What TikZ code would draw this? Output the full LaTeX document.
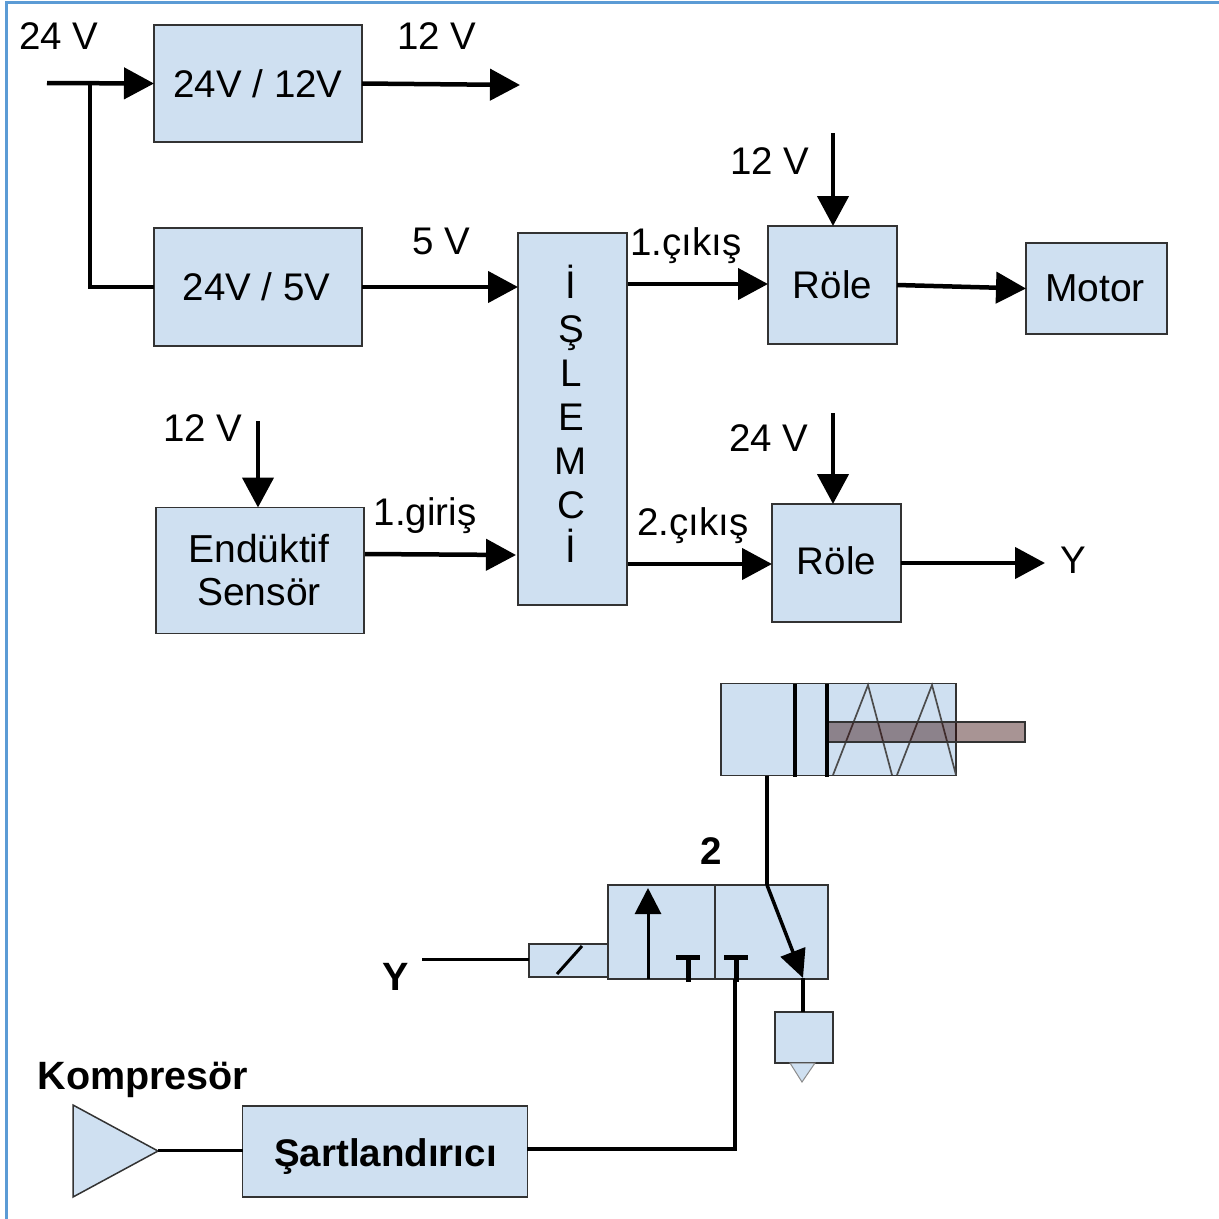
\documentclass[tikz,border=0pt]{standalone}
\usepackage{fontspec}
\setmainfont{Liberation Sans}
\usetikzlibrary{arrows.meta}
\definecolor{boxfill}{HTML}{CFE0F1}
\definecolor{framecol}{HTML}{5B9BD5}
\definecolor{rodcol}{HTML}{300000}
\begin{document}
\begin{tikzpicture}[x=1pt,y=-1pt]
\tikzset{
base/.style={font=\fontsize{38.5}{42}\selectfont,inner sep=0pt},
block/.style={base,draw=black!80,line width=1.5pt,fill=boxfill,align=center,outer sep=0pt},
part/.style={draw=black!80,line width=1.5pt,fill=boxfill,outer sep=0pt},
txt/.style={base},
boldtxt/.style={font=\fontsize{39.5}{42}\selectfont\bfseries,inner sep=0pt},
wire/.style={draw=black,line width=4.5pt},
arrow/.style={wire,-{Triangle[length=30pt,width=31pt]}},
pipe/.style={draw=black,line width=3pt},
tee/.style={draw=black,line width=5pt}}
\useasboundingbox (0,0) rectangle (1219,1219);
\fill[white] (0,0) rectangle (1219,1219);
\draw[framecol,line width=3pt] (6,1219) -- (6,2) -- (1219,2);
% blocks
\node[block,minimum width=208,minimum height=117] at (258,83.5) (VA) {24V / 12V};
\node[block,minimum width=208,minimum height=118] at (258,287) (VB) {\hspace*{-3pt}24V / 5V};
\node[block,minimum width=208,minimum height=126,font=\fontsize{39}{43}\selectfont] at (260,570.5) (SN) {\hspace*{-2pt}Endüktif\\\hspace*{-2pt}Sensör};
\node[block,minimum width=109,minimum height=372] at (572.5,419) (IS) {};
\node[txt,align=center,font=\fontsize{38.5}{44}\selectfont] at (571,414) (ISL) {İ\\Ş\\L\\E\\M\\C\\İ};
\node[block,minimum width=129,minimum height=118] at (832.5,285) (RA) {Röle};
\node[block,minimum width=141,minimum height=91,font=\fontsize{39}{42}\selectfont] at (1096.5,288.5) (MT) {\hspace*{-3pt}Motor};
\node[block,minimum width=129,minimum height=118,text height=28pt,text depth=6pt] at (836.5,563) (RB) {Röle};
% labels
\node[txt] at (59,36) (L24) {24 V};
\node[txt] at (437,36) (L12) {12 V};
\node[txt] at (441,241) (L5) {5 V};
\node[txt] at (686,246) (CA) {1.çıkış};
\node[txt] at (770,161) (LRA) {12 V};
\node[txt] at (769,438) (LRB) {24 V};
\node[txt] at (203,428) (LSN) {12 V};
\node[txt] at (425,516) (GA) {1.giriş};
\node[txt] at (693,526) (CB) {2.çıkış};
\node[txt] at (1073,560) (YA) {Y};
% connectors
\coordinate (INA) at (47,83);
\coordinate (JA) at (90,83);
\coordinate (OUTA) at (520,85);
\coordinate (PA) at (833,133);
\coordinate (PB) at (833,413);
\coordinate (PC) at (258,421);
\coordinate (SO) at (365,554);
\coordinate (IG) at (516,555);
\coordinate (IA) at (628,284);
\coordinate (IB) at (628,564);
\coordinate (OY) at (1045,563);
\path[arrow] (INA) -- (VA.west);
\path[wire] (JA) -- (JA |- VB.west) -- (VB.west);
\path[arrow] (VA.east) -- (OUTA);
\path[arrow] (VB.east) -- (VB.east -| IS.west);
\path[arrow] (SO) -- (IG);
\path[arrow] (IA) -- (IA -| RA.west);
\path[arrow] (IB) -- (IB -| RB.west);
\path[arrow] (RA.east) -- (MT.west);
\path[arrow] (RB.east) -- (OY);
\path[arrow] (PA) -- (PA |- RA.north);
\path[arrow] (PB) -- (PB |- RB.north);
\path[arrow] (PC) -- (SN.north -| PC);
% cylinder
\node[part,minimum width=235,minimum height=92] at (838.5,729.5) (CY) {};
\draw[black!70,line width=1.7pt] (833,775) -- (868,685) -- (892,775) (897,775) -- (932,685) -- (956,775);
\node[draw=black!80,line width=1.5pt,fill=rodcol,fill opacity=.42,minimum width=197,minimum height=20] at (926.5,732) (RD) {};
\draw[black,line width=3.5pt] (795,684) -- (795,777);
\draw[black,line width=3.5pt] (827,684) -- (827,777);
% valve
\node[part,minimum width=220,minimum height=94] at (718,932) (VL) {};
\draw[black!80,line width=1.5pt] (715,885) -- (715,979);
\node[part,minimum width=79,minimum height=33] at (568.5,960.5) (SL) {};
\draw[black,line width=3pt] (557,974) -- (582,946);
\node[boldtxt,font=\fontsize{38.5}{42}\selectfont\bfseries] at (711,851) (NR) {2};
\draw[pipe,-{Triangle[length=26pt,width=26pt]}] (648,979) -- (648,888);
\draw[tee] (676,957) -- (700,957) (688,957) -- (688,982);
\draw[tee] (724,957) -- (748,957) (736,957) -- (736,982);
\coordinate (VT) at (767,885);
\coordinate (VD) at (803,978);
\draw[pipe,line width=3.5pt,-{Triangle[length=28pt,width=26pt]}] (VT) -- (VD);
\path[pipe,line width=3.5pt] (CY.south -| VT) -- (VT);
% exhaust
\node[part,minimum width=58,minimum height=51] at (804,1037.5) (EX) {};
\fill[boxfill,draw=black!45,line width=1pt] (790,1063) -- (815,1063) -- (802,1082) -- cycle;
\path[pipe,line width=3.5pt] (VD) -- (VD |- EX.north);
% input side
\node[boldtxt] at (396,977) (YB) {Y};
\coordinate (YS) at (422,959);
\path[pipe] (YS) -- (YS -| SL.west);
% air supply
\node[boldtxt] at (143,1080) (KP) {Kompresör};
\draw[part] (73,1105) -- (73,1197) -- (158,1151) -- cycle;
\coordinate (KO) at (158,1150);
\node[block,font=\fontsize{38.5}{42}\selectfont\bfseries,minimum width=285,minimum height=91,text height=32pt,text depth=3pt] at (385,1151.5) (ST) {\hspace*{1pt}Şartlandırıcı};
\path[pipe] (KO) -- (KO -| ST.west);
\coordinate (ST1) at (527,1149);
\coordinate (VI) at (735,979);
\path[pipe,line width=3.5pt] (ST1) -- (ST1 -| VI) -- (VI);
\end{tikzpicture}
\end{document}
